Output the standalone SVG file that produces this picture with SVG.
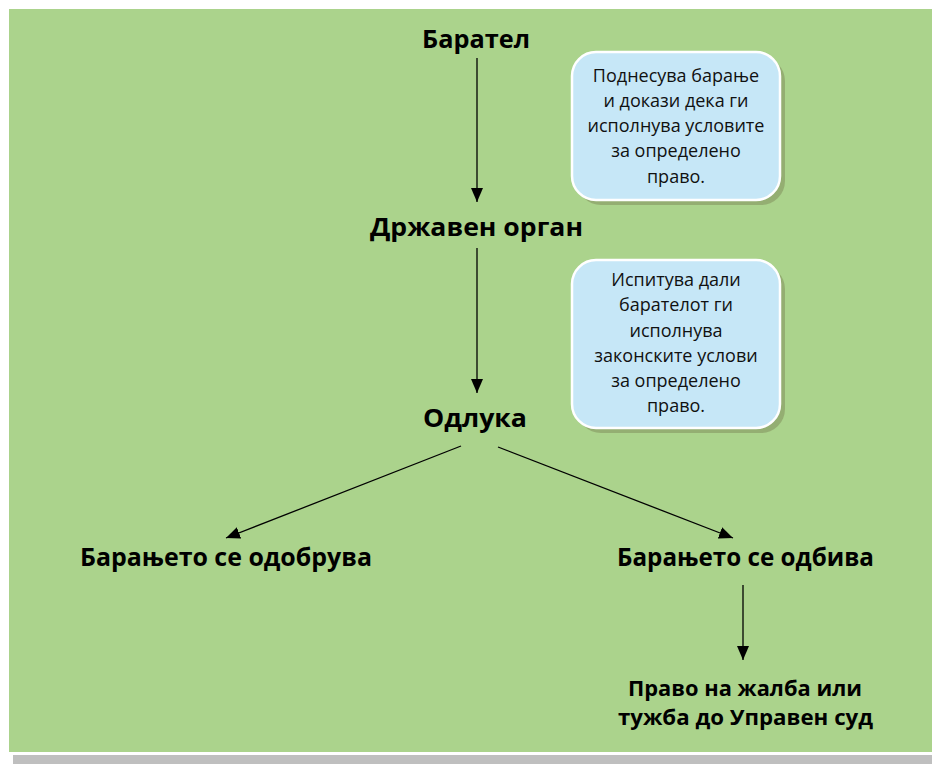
<svg xmlns="http://www.w3.org/2000/svg" width="932" height="764" viewBox="0 0 932 764">
<defs>
<marker id="ah" viewBox="0 0 14 12" refX="14" refY="6" markerWidth="14" markerHeight="12" markerUnits="userSpaceOnUse" orient="auto">
<path d="M0,0 L14,6 L0,12 z" fill="#000"/>
</marker>
<style>
.t{font-family:"Open Sans","Liberation Sans",Arial,sans-serif;font-weight:bold;font-size:25px;fill:#000;text-anchor:middle}
.t2{font-family:"Open Sans","Liberation Sans",Arial,sans-serif;font-weight:bold;font-size:21px;fill:#000;text-anchor:middle}
.c{font-family:"Open Sans","Liberation Sans",Arial,sans-serif;font-size:18px;fill:#111;text-anchor:middle}
.box{fill:#c6e7f7;stroke:#fff;stroke-width:2.5}
.sh{fill:#8ea56c;opacity:0.8}
.ln{stroke:#000;stroke-width:1.3;fill:none;marker-end:url(#ah)}
</style>
</defs>
<rect x="0" y="0" width="932" height="764" fill="#fff"/>
<rect x="9" y="9" width="923" height="743" fill="#abd38c"/>
<rect x="13" y="755" width="919" height="9" fill="#bfbfbf"/>
<g id="connectors">
<line class="ln" x1="477" y1="58" x2="477" y2="202"/>
<line class="ln" x1="477" y1="248" x2="477" y2="393"/>
<line class="ln" x1="461" y1="446" x2="226" y2="538"/>
<line class="ln" x1="498" y1="447" x2="733" y2="538"/>
<line class="ln" x1="743" y1="585" x2="743" y2="660"/>
</g>
<g id="n-baratel"><text class="t" x="476" y="48" textLength="108" lengthAdjust="spacingAndGlyphs">Барател</text></g>
<g id="n-organ"><text class="t" x="476.5" y="236" textLength="213" lengthAdjust="spacingAndGlyphs">Државен орган</text></g>
<g id="n-odluka"><text class="t" x="475" y="427" textLength="104" lengthAdjust="spacingAndGlyphs">Одлука</text></g>
<g id="n-odobruva"><text class="t" x="226" y="566" textLength="292" lengthAdjust="spacingAndGlyphs">Барањето се одобрува</text></g>
<g id="n-odbiva"><text class="t" x="745.5" y="566" textLength="257" lengthAdjust="spacingAndGlyphs">Барањето се одбива</text></g>
<g id="n-zalba"><text class="t2" x="745" y="696" textLength="234" lengthAdjust="spacingAndGlyphs">Право на жалба или</text><text class="t2" x="745.5" y="725" textLength="255" lengthAdjust="spacingAndGlyphs">тужба до Управен суд</text></g>
<g id="callout1">
<rect class="sh" x="577" y="57" width="208" height="148" rx="24"/>
<rect class="box" x="572" y="52" width="208" height="148" rx="24"/>
<text class="c" x="676" y="82">Поднесува барање</text>
<text class="c" x="676" y="107">и докази дека ги</text>
<text class="c" x="676" y="132">исполнува условите</text>
<text class="c" x="676" y="157">за определено</text>
<text class="c" x="676" y="183">право.</text>
</g>
<g id="callout2">
<rect class="sh" x="577" y="265" width="208" height="168" rx="24"/>
<rect class="box" x="572" y="260" width="208" height="168" rx="24"/>
<text class="c" x="676" y="286">Испитува дали</text>
<text class="c" x="676" y="311">барателот ги</text>
<text class="c" x="676" y="337">исполнува</text>
<text class="c" x="676" y="362">законските услови</text>
<text class="c" x="676" y="387">за определено</text>
<text class="c" x="676" y="412">право.</text>
</g>
</svg>
